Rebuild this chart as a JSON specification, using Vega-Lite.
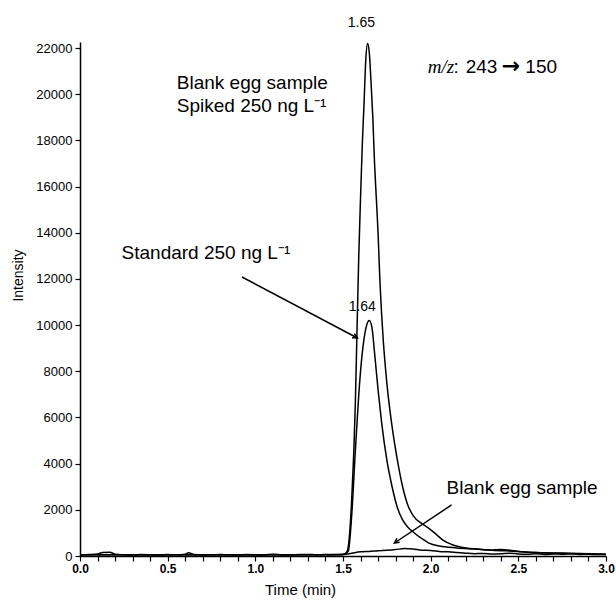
{
  "$schema": "https://vega.github.io/schema/vega-lite/v6.json",
  "width": 526,
  "height": 514,
  "autosize": {"type": "none"},
  "padding": {"left": 80, "top": 42, "right": 10, "bottom": 45},
  "background": "white",
  "config": {
    "view": {"stroke": null},
    "font": "Liberation Sans",
    "axis": {"domainColor": "black", "tickColor": "black", "labelColor": "black", "titleColor": "black", "grid": false, "domainWidth": 1.5, "tickWidth": 1.2, "labelFont": "Liberation Sans", "titleFont": "Liberation Sans", "titleFontWeight": "normal"}
  },
  "datasets": {
    "traces": [
      {"t": 0.00, "i": 40, "s": "Blank"}, {"t": 0.05, "i": 60, "s": "Blank"}, {"t": 0.10, "i": 90, "s": "Blank"}, {"t": 0.13, "i": 150, "s": "Blank"}, {"t": 0.17, "i": 160, "s": "Blank"}, {"t": 0.20, "i": 80, "s": "Blank"}, {"t": 0.25, "i": 50, "s": "Blank"}, {"t": 0.30, "i": 40, "s": "Blank"}, {"t": 0.35, "i": 60, "s": "Blank"}, {"t": 0.40, "i": 50, "s": "Blank"}, {"t": 0.45, "i": 40, "s": "Blank"}, {"t": 0.50, "i": 60, "s": "Blank"}, {"t": 0.55, "i": 50, "s": "Blank"}, {"t": 0.60, "i": 80, "s": "Blank"}, {"t": 0.62, "i": 140, "s": "Blank"}, {"t": 0.65, "i": 60, "s": "Blank"}, {"t": 0.70, "i": 40, "s": "Blank"}, {"t": 0.75, "i": 50, "s": "Blank"}, {"t": 0.80, "i": 70, "s": "Blank"}, {"t": 0.85, "i": 50, "s": "Blank"}, {"t": 0.90, "i": 40, "s": "Blank"}, {"t": 0.95, "i": 60, "s": "Blank"}, {"t": 1.00, "i": 50, "s": "Blank"}, {"t": 1.05, "i": 40, "s": "Blank"}, {"t": 1.10, "i": 80, "s": "Blank"}, {"t": 1.15, "i": 50, "s": "Blank"}, {"t": 1.20, "i": 40, "s": "Blank"}, {"t": 1.25, "i": 60, "s": "Blank"}, {"t": 1.30, "i": 70, "s": "Blank"}, {"t": 1.35, "i": 50, "s": "Blank"}, {"t": 1.40, "i": 60, "s": "Blank"}, {"t": 1.45, "i": 50, "s": "Blank"}, {"t": 1.50, "i": 60, "s": "Blank"}, {"t": 1.55, "i": 120, "s": "Blank"}, {"t": 1.60, "i": 180, "s": "Blank"}, {"t": 1.65, "i": 200, "s": "Blank"}, {"t": 1.70, "i": 230, "s": "Blank"}, {"t": 1.75, "i": 250, "s": "Blank"}, {"t": 1.80, "i": 280, "s": "Blank"}, {"t": 1.85, "i": 320, "s": "Blank"}, {"t": 1.90, "i": 300, "s": "Blank"}, {"t": 1.95, "i": 250, "s": "Blank"}, {"t": 2.00, "i": 240, "s": "Blank"}, {"t": 2.05, "i": 200, "s": "Blank"}, {"t": 2.10, "i": 180, "s": "Blank"}, {"t": 2.15, "i": 150, "s": "Blank"}, {"t": 2.20, "i": 120, "s": "Blank"}, {"t": 2.25, "i": 100, "s": "Blank"}, {"t": 2.30, "i": 110, "s": "Blank"}, {"t": 2.35, "i": 90, "s": "Blank"}, {"t": 2.40, "i": 100, "s": "Blank"}, {"t": 2.45, "i": 120, "s": "Blank"}, {"t": 2.50, "i": 90, "s": "Blank"}, {"t": 2.55, "i": 80, "s": "Blank"}, {"t": 2.60, "i": 100, "s": "Blank"}, {"t": 2.65, "i": 70, "s": "Blank"}, {"t": 2.70, "i": 90, "s": "Blank"}, {"t": 2.75, "i": 80, "s": "Blank"}, {"t": 2.80, "i": 100, "s": "Blank"}, {"t": 2.85, "i": 70, "s": "Blank"}, {"t": 2.90, "i": 80, "s": "Blank"}, {"t": 2.95, "i": 60, "s": "Blank"}, {"t": 3.00, "i": 70, "s": "Blank"},

      {"t": 0.00, "i": 50, "s": "Spiked"}, {"t": 0.50, "i": 50, "s": "Spiked"}, {"t": 1.00, "i": 50, "s": "Spiked"}, {"t": 1.50, "i": 60, "s": "Spiked"}, {"t": 1.52, "i": 150, "s": "Spiked"}, {"t": 1.53, "i": 400, "s": "Spiked"}, {"t": 1.55, "i": 2500, "s": "Spiked"}, {"t": 1.57, "i": 6500, "s": "Spiked"}, {"t": 1.58, "i": 9800, "s": "Spiked"}, {"t": 1.59, "i": 13000, "s": "Spiked"}, {"t": 1.60, "i": 15500, "s": "Spiked"}, {"t": 1.61, "i": 17800, "s": "Spiked"}, {"t": 1.62, "i": 19600, "s": "Spiked"}, {"t": 1.63, "i": 21500, "s": "Spiked"}, {"t": 1.64, "i": 22200, "s": "Spiked"}, {"t": 1.65, "i": 21800, "s": "Spiked"}, {"t": 1.66, "i": 20500, "s": "Spiked"}, {"t": 1.67, "i": 19000, "s": "Spiked"}, {"t": 1.68, "i": 17000, "s": "Spiked"}, {"t": 1.69, "i": 15500, "s": "Spiked"}, {"t": 1.70, "i": 14000, "s": "Spiked"}, {"t": 1.71, "i": 12000, "s": "Spiked"}, {"t": 1.72, "i": 10500, "s": "Spiked"}, {"t": 1.73, "i": 9300, "s": "Spiked"}, {"t": 1.75, "i": 7500, "s": "Spiked"}, {"t": 1.78, "i": 5600, "s": "Spiked"}, {"t": 1.81, "i": 4160, "s": "Spiked"}, {"t": 1.84, "i": 3000, "s": "Spiked"}, {"t": 1.87, "i": 2200, "s": "Spiked"}, {"t": 1.90, "i": 1750, "s": "Spiked"}, {"t": 1.95, "i": 1400, "s": "Spiked"}, {"t": 1.99, "i": 1200, "s": "Spiked"}, {"t": 2.03, "i": 950, "s": "Spiked"}, {"t": 2.07, "i": 690, "s": "Spiked"}, {"t": 2.12, "i": 500, "s": "Spiked"}, {"t": 2.20, "i": 350, "s": "Spiked"}, {"t": 2.27, "i": 300, "s": "Spiked"}, {"t": 2.34, "i": 260, "s": "Spiked"}, {"t": 2.40, "i": 280, "s": "Spiked"}, {"t": 2.50, "i": 200, "s": "Spiked"}, {"t": 2.60, "i": 150, "s": "Spiked"}, {"t": 2.70, "i": 130, "s": "Spiked"}, {"t": 2.80, "i": 120, "s": "Spiked"}, {"t": 2.90, "i": 100, "s": "Spiked"}, {"t": 3.00, "i": 80, "s": "Spiked"},

      {"t": 0.00, "i": 50, "s": "Standard"}, {"t": 0.50, "i": 50, "s": "Standard"}, {"t": 1.00, "i": 50, "s": "Standard"}, {"t": 1.50, "i": 60, "s": "Standard"}, {"t": 1.53, "i": 200, "s": "Standard"}, {"t": 1.55, "i": 1800, "s": "Standard"}, {"t": 1.57, "i": 4500, "s": "Standard"}, {"t": 1.59, "i": 7000, "s": "Standard"}, {"t": 1.61, "i": 8800, "s": "Standard"}, {"t": 1.62, "i": 9400, "s": "Standard"}, {"t": 1.635, "i": 10000, "s": "Standard"}, {"t": 1.65, "i": 10200, "s": "Standard"}, {"t": 1.665, "i": 9900, "s": "Standard"}, {"t": 1.68, "i": 8800, "s": "Standard"}, {"t": 1.70, "i": 7200, "s": "Standard"}, {"t": 1.72, "i": 5800, "s": "Standard"}, {"t": 1.75, "i": 4160, "s": "Standard"}, {"t": 1.78, "i": 3000, "s": "Standard"}, {"t": 1.81, "i": 2100, "s": "Standard"}, {"t": 1.84, "i": 1560, "s": "Standard"}, {"t": 1.87, "i": 1250, "s": "Standard"}, {"t": 1.90, "i": 1040, "s": "Standard"}, {"t": 1.95, "i": 750, "s": "Standard"}, {"t": 1.99, "i": 560, "s": "Standard"}, {"t": 2.05, "i": 430, "s": "Standard"}, {"t": 2.15, "i": 350, "s": "Standard"}, {"t": 2.25, "i": 300, "s": "Standard"}, {"t": 2.35, "i": 250, "s": "Standard"}, {"t": 2.50, "i": 200, "s": "Standard"}, {"t": 2.60, "i": 150, "s": "Standard"}, {"t": 2.70, "i": 120, "s": "Standard"}, {"t": 2.80, "i": 100, "s": "Standard"}, {"t": 2.90, "i": 90, "s": "Standard"}, {"t": 3.00, "i": 70, "s": "Standard"}
    ],
    "one": [{}]
  },
  "encoding": {
    "x": {"type": "quantitative", "title": "Time (min)", "scale": {"domain": [0, 3], "nice": false, "zero": false},
      "axis": {"values": [0,0.1,0.2,0.3,0.4,0.5,0.6,0.7,0.8,0.9,1,1.1,1.2,1.3,1.4,1.5,1.6,1.7,1.8,1.9,2,2.1,2.2,2.3,2.4,2.5,2.6,2.7,2.8,2.9,3],
        "labelExpr": "round(datum.value*10) % 5 == 0 ? format(datum.value, '.1f') : ''",
        "labelOverlap": false, "labelBound": false,
        "tickSize": 5, "labelFontSize": 12, "labelFontWeight": "bold", "labelPadding": 2, "titleFontSize": 15, "titlePadding": 8, "titleX": 220, "labelFlush": false}},
    "y": {"type": "quantitative", "title": "Intensity", "scale": {"domain": [0, 22260], "nice": false},
      "axis": {"values": [0,2000,4000,6000,8000,10000,12000,14000,16000,18000,20000,22000], "format": "d", "labelOverlap": false, "tickSize": 5, "labelFontSize": 13, "labelPadding": 3, "titleFontSize": 14, "titlePadding": 10, "titleY": 233}}
  },
  "layer": [
    {
      "data": {"name": "traces"},
      "mark": {"type": "line", "color": "black", "strokeWidth": 1.5, "interpolate": "monotone"},
      "encoding": {
        "x": {"field": "t"},
        "y": {"field": "i"},
        "detail": {"field": "s"}
      }
    },
    {"data": {"name": "one"}, "mark": {"type": "text", "fontSize": 14, "align": "center", "baseline": "middle"}, "encoding": {"x": {"datum": 1.605}, "y": {"datum": 23084}, "text": {"value": "1.65"}}},
    {"data": {"name": "one"}, "mark": {"type": "text", "fontSize": 14, "align": "center", "baseline": "middle"}, "encoding": {"x": {"datum": 1.61}, "y": {"datum": 10784}, "text": {"value": "1.64"}}},
    {"data": {"name": "one"}, "mark": {"type": "text", "fontSize": 19, "align": "left", "baseline": "middle"}, "encoding": {"x": {"datum": 0.552}, "y": {"datum": 20485}, "text": {"value": "Blank egg sample"}}},
    {"data": {"name": "one"}, "mark": {"type": "text", "fontSize": 19, "align": "left", "baseline": "middle"}, "encoding": {"x": {"datum": 0.552}, "y": {"datum": 19489}, "text": {"value": "Spiked 250 ng L⁻¹"}}},
    {"data": {"name": "one"}, "mark": {"type": "text", "fontSize": 19, "font": "Liberation Serif", "fontStyle": "italic", "align": "left", "baseline": "middle"}, "encoding": {"x": {"datum": 1.983}, "y": {"datum": 21178}, "text": {"value": "m/z"}}},
    {"data": {"name": "one"}, "mark": {"type": "text", "fontSize": 19, "align": "left", "baseline": "middle"}, "encoding": {"x": {"datum": 2.13}, "y": {"datum": 21178}, "text": {"value": ":"}}},
    {"data": {"name": "one"}, "mark": {"type": "text", "fontSize": 19, "align": "left", "baseline": "middle"}, "encoding": {"x": {"datum": 2.2}, "y": {"datum": 21178}, "text": {"value": "243"}}},
    {"data": {"name": "one"}, "mark": {"type": "text", "fontSize": 22, "font": "DejaVu Sans", "fontWeight": "bold", "align": "left", "baseline": "middle"}, "encoding": {"x": {"datum": 2.405}, "y": {"datum": 21230}, "text": {"value": "→"}}},
    {"data": {"name": "one"}, "mark": {"type": "text", "fontSize": 19, "align": "left", "baseline": "middle"}, "encoding": {"x": {"datum": 2.54}, "y": {"datum": 21178}, "text": {"value": "150"}}},
    {"data": {"name": "one"}, "mark": {"type": "text", "fontSize": 19, "align": "left", "baseline": "middle"}, "encoding": {"x": {"datum": 0.237}, "y": {"datum": 13123}, "text": {"value": "Standard 250 ng L⁻¹"}}},
    {"data": {"name": "one"}, "mark": {"type": "text", "fontSize": 19, "align": "left", "baseline": "middle"}, "encoding": {"x": {"datum": 2.091}, "y": {"datum": 2945}, "text": {"value": "Blank egg sample"}}},
    {"data": {"name": "one"}, "mark": {"type": "rule", "color": "black", "strokeWidth": 1.5}, "encoding": {"x": {"datum": 0.924}, "y": {"datum": 12083}, "x2": {"datum": 1.582}, "y2": {"datum": 9441}}},
    {"data": {"name": "one"}, "mark": {"type": "point", "shape": "M -1 -0.5 L 0 0 L -1 0.5", "filled": false, "color": "black", "strokeWidth": 1.5, "size": 90, "angle": 28, "opacity": 1}, "encoding": {"x": {"datum": 1.582}, "y": {"datum": 9441}}},
    {"data": {"name": "one"}, "mark": {"type": "rule", "color": "black", "strokeWidth": 1.5}, "encoding": {"x": {"datum": 2.119}, "y": {"datum": 2209}, "x2": {"datum": 1.793}, "y2": {"datum": 563}}},
    {"data": {"name": "one"}, "mark": {"type": "point", "shape": "M -1 -0.5 L 0 0 L -1 0.5", "filled": false, "color": "black", "strokeWidth": 1.5, "size": 90, "angle": 146, "opacity": 1}, "encoding": {"x": {"datum": 1.793}, "y": {"datum": 563}}}
  ]
}
